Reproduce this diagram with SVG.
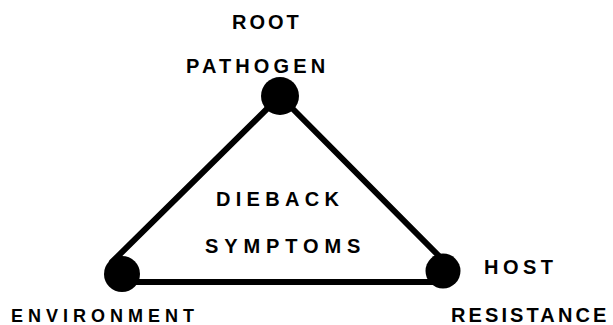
<svg xmlns="http://www.w3.org/2000/svg" width="613" height="325" viewBox="0 0 613 325">
  <style>
    .lbl { font-family: "Liberation Sans", Arial, sans-serif; font-weight: bold; font-size: 20px; fill: #000; }
    .dot { fill: #000; }
    .edge { stroke: #000; stroke-width: 6; stroke-linecap: round; fill: none; }
  </style>
  <rect width="613" height="325" fill="#fff"/>
  <g id="connectors">
    <line class="edge" x1="280" y1="96" x2="112" y2="262"/>
    <line class="edge" x1="280" y1="96" x2="441" y2="258"/>
    <line class="edge" x1="122" y1="282" x2="443" y2="282"/>
  </g>
  <g id="root-pathogen">
    <circle class="dot" cx="280" cy="96" r="19"/>
    <text class="lbl" x="232" y="29" letter-spacing="3">ROOT</text>
    <text class="lbl" x="186" y="73" letter-spacing="4.1">PATHOGEN</text>
  </g>
  <g id="environment">
    <circle class="dot" cx="122" cy="274" r="18"/>
    <text class="lbl" x="11" y="322" letter-spacing="5" style="font-size:18px">ENVIRONMENT</text>
  </g>
  <g id="host-resistance">
    <circle class="dot" cx="443" cy="271" r="17.5"/>
    <text class="lbl" x="484" y="274" letter-spacing="4.5">HOST</text>
    <text class="lbl" x="451" y="322" letter-spacing="3.1">RESISTANCE</text>
  </g>
  <g id="dieback-symptoms">
    <text class="lbl" x="216" y="206" letter-spacing="5.3">DIEBACK</text>
    <text class="lbl" x="205" y="253" letter-spacing="5.9">SYMPTOMS</text>
  </g>
</svg>
